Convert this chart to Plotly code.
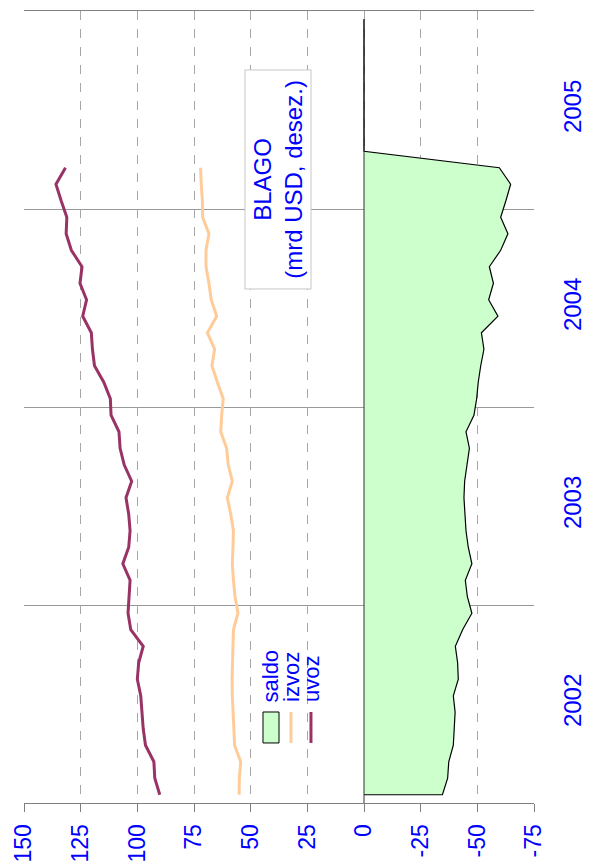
import plotly.graph_objects as go

# ---- data (monthly, Jan 2002 - Mar 2005) ----
start_year = 2002
uvoz = [90.1, 92.3, 92.7, 96.4, 97.4, 98.0, 98.5, 100.0, 99.4, 97.4,
        102.9, 104.1, 103.5, 103.2, 106.4, 103.8, 103.2, 103.8, 105.0, 102.5,
        105.8, 107.6, 108.1, 111.6, 111.9, 114.8, 118.9, 119.8, 120.3, 124.1,
        122.4, 125.3, 124.4, 129.1, 131.4, 131.1, 133.6, 135.9, 131.7]
izvoz = [55.1, 55.0, 54.4, 57.1, 57.4, 57.9, 58.1, 58.2, 58.1, 57.8,
         57.6, 55.6, 56.9, 57.6, 58.1, 57.8, 57.6, 58.8, 60.3, 58.1,
         59.9, 60.6, 63.2, 62.8, 62.1, 64.7, 67.1, 65.9, 69.1, 65.0,
         67.4, 68.4, 69.7, 69.7, 68.4, 71.2, 71.3, 71.8, 72.1]
# saldo continues with zeros to Dec 2005
saldo = [-34.6, -36.9, -37.4, -39.4, -39.9, -40.2, -39.4, -41.6, -41.3, -40.3,
         -43.5, -47.6, -45.6, -44.7, -47.6, -46.0, -45.0, -44.4, -44.1, -44.4,
         -45.3, -46.5, -45.0, -48.5, -49.7, -50.4, -51.5, -52.9, -51.8, -59.1,
         -55.0, -57.1, -55.3, -60.3, -63.5, -60.3, -62.6, -64.7, -59.7,
         0, 0, 0, 0, 0, 0, 0, 0, 0]
value_ticks = [150, 125, 100, 75, 50, 25, 0, -25, -50, -75]
year_labels = ["2002", "2003", "2004", "2005"]
series_names = ["saldo", "izvoz", "uvoz"]
title_text = "BLAGO<br>(mrd USD, desez.)"

t_data = [start_year + (i + 0.5) / 12 for i in range(len(uvoz))]
t_saldo = [start_year + (i + 0.5) / 12 for i in range(len(saldo))]

FONT = "Liberation Sans, Arial, sans-serif"
BLUE = "#0000FF"
C_UVOZ = "#993366"
C_IZVOZ = "#FFCC99"
C_SALDO = "#CCFFCC"

fig = go.Figure()

# saldo area (closed to zero baseline)
fig.add_trace(go.Scatter(
    x=[0] + saldo, y=[t_saldo[0]] + t_saldo,
    mode="lines", fill="toself", fillcolor=C_SALDO,
    line=dict(color="black", width=1.2), name=series_names[0],
    showlegend=False, hoverinfo="skip"))
fig.add_trace(go.Scatter(
    x=izvoz, y=t_data, mode="lines",
    line=dict(color=C_IZVOZ, width=3), name=series_names[1], showlegend=False))
fig.add_trace(go.Scatter(
    x=uvoz, y=t_data, mode="lines",
    line=dict(color=C_UVOZ, width=3), name=series_names[2], showlegend=False))

# category axis line at value 0
fig.add_shape(type="line", xref="x", yref="y", x0=0, x1=0,
              y0=start_year, y1=t_saldo[-1],
              line=dict(color="#303030", width=1), layer="above")

fig.update_xaxes(
    range=[150, -75], tickvals=value_ticks, ticktext=[str(v) for v in value_ticks],
    tickangle=-90, tickfont=dict(family=FONT, size=23, color=BLUE),
    showgrid=True, gridcolor="#A6A6A6", griddash="dash", gridwidth=1,
    zeroline=False, showline=True, linecolor="#808080", linewidth=1,
    mirror=True, ticks="outside", ticklen=8, tickcolor="#808080",
    ticklabelstandoff=3, automargin=False)

fig.update_yaxes(
    range=[start_year, start_year + 4],
    tickvals=[start_year + k + 0.5 for k in range(4)], ticktext=year_labels,
    side="right", tickangle=-90, tickfont=dict(family=FONT, size=24, color=BLUE),
    showgrid=False, zeroline=False, showline=False, ticks="",
    ticklabelstandoff=22, automargin=False,
    minor=dict(tickvals=[start_year + k for k in range(1, 4)], showgrid=True,
               gridcolor="#999999", gridwidth=1, ticks=""))

# title box
fig.add_annotation(
    text=title_text, xref="paper", yref="paper", x=0.499, y=0.9268,
    xanchor="center", yanchor="top", width=212, height=59,
    showarrow=False, textangle=-90, align="center", valign="middle",
    font=dict(family=FONT, size=24, color=BLUE),
    bgcolor="white", bordercolor="#C8C8C8", borderwidth=1, borderpad=3)

# manual rotated legend
lx = [0.4843, 0.5235, 0.5627]
ly0, ly1 = 0.0758, 0.1149
fig.add_shape(type="rect", xref="paper", yref="paper",
              x0=lx[0] - 0.0157, x1=lx[0] + 0.0157, y0=ly0, y1=ly1,
              fillcolor=C_SALDO, line=dict(color="black", width=1))
fig.add_shape(type="line", xref="paper", yref="paper",
              x0=lx[1], x1=lx[1], y0=ly0, y1=ly1,
              line=dict(color=C_IZVOZ, width=3))
fig.add_shape(type="line", xref="paper", yref="paper",
              x0=lx[2], x1=lx[2], y0=ly0, y1=ly1,
              line=dict(color=C_UVOZ, width=3))
for xx, name in zip(lx, series_names):
    fig.add_annotation(text=name, xref="paper", yref="paper", x=xx, y=0.125,
                       xanchor="center", yanchor="bottom", showarrow=False,
                       textangle=-90, font=dict(family=FONT, size=22, color=BLUE))

# page body has an 8px offset, so the figure is sized to fit the window
fig.update_layout(
    width=588, height=858,
    margin=dict(l=16, r=62, t=3, b=63),
    paper_bgcolor="white", plot_bgcolor="white",
    showlegend=False)

fig.write_html("out.html")
